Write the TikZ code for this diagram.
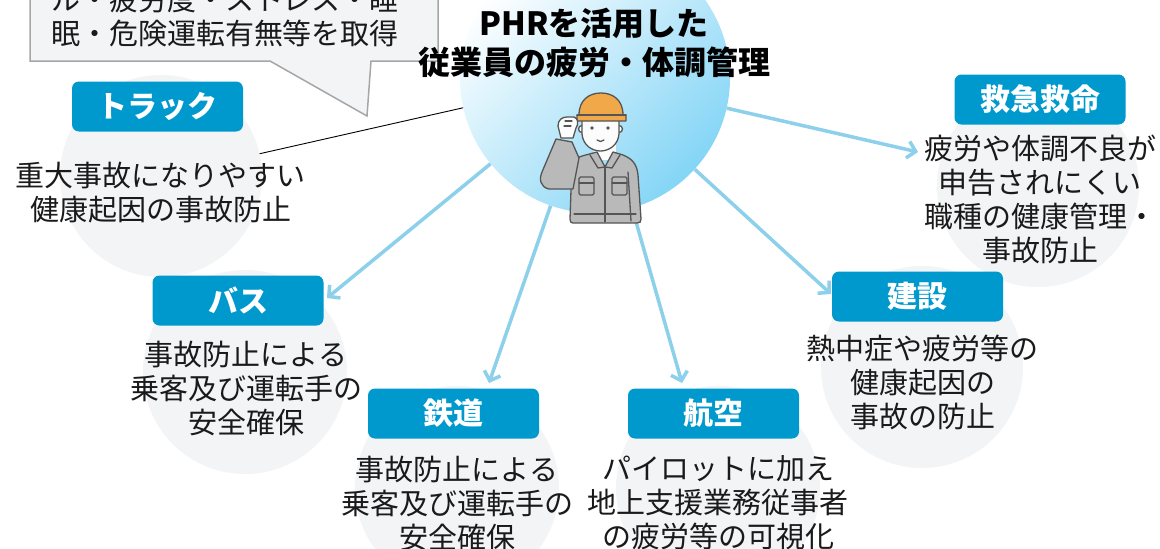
\documentclass[tikz,border=0pt]{standalone}
\usepackage{fontspec}
\setmainfont{Noto Sans CJK JP}
\usetikzlibrary{arrows.meta}

\definecolor{boxblue}{RGB}{0,153,206}
\definecolor{pale}{RGB}{242,244,245}
\definecolor{arrowblue}{RGB}{140,208,235}
\definecolor{calloutline}{RGB}{166,166,166}
\definecolor{ink}{RGB}{26,26,26}
\definecolor{hubmid}{RGB}{214,240,252}
\definecolor{hubdeep}{RGB}{132,213,246}
\definecolor{jacketgrey}{RGB}{185,185,185}
\definecolor{figline}{RGB}{85,85,85}
\definecolor{helmetorange}{RGB}{240,168,72}
\definecolor{skin}{RGB}{252,252,252}

\tikzset{
  zone/.style={circle, fill=pale, inner sep=0pt, minimum size=#1},
  catbox/.style={rectangle, rounded corners=7pt, fill=boxblue, text=white,
    font=\bfseries\fontsize{30}{34}\selectfont, minimum width=171pt,
    minimum height=50pt, inner sep=0pt},
  desc/.style={align=center, text=ink, inner sep=0pt,
    font=\fontsize{29}{34}\selectfont},
  flow/.style={draw=arrowblue, line width=3.5pt,
    -{Straight Barb[length=8pt,width=17pt]}},
  jacket/.style={fill=jacketgrey, draw=figline, line width=1.3pt, line join=round},
  bare/.style={fill=skin, draw=figline, line width=1.3pt, line join=round},
  figstroke/.style={draw=figline, line width=1.3pt, line cap=round, line join=round}
}

\begin{document}
\begin{tikzpicture}[x=1pt,y=-1pt]
\useasboundingbox (0,0) rectangle (1160,549);
\fill[white] (0,0) rectangle (1160,549);

% pale discs behind each sector
\node[zone=202pt] (truckzone) at (161,176) {};
\node[zone=202pt] (rescuezone) at (1038,186) {};
\node[zone=204pt] (buszone) at (245,372) {};
\node[zone=202pt] (buildzone) at (922,367) {};
\node[zone=204pt] (railzone) at (457,488) {};
\node[zone=204pt] (airzone) at (718,488) {};

% central disc
\node[circle, minimum size=270pt, inner sep=0pt, top color=white,
  middle color=hubmid, bottom color=hubdeep, shading angle=45] (hub) at (595,78) {};

% speech balloon with the collected data
\filldraw[draw=calloutline, fill=pale, line width=1.5pt, line join=miter]
  (30,-40) -- (30,61) -- (270,61) -- (367,116) -- (371,61) -- (438,61) -- (438,-40) -- cycle;
\node[desc] (datatext) at (225,17) {ル・疲労度・ストレス・睡\\眠・危険運転有無等を取得};

% connectors
\draw[black, line width=0.9pt] (truckzone) -- (hub);
\coordinate (tipRescue) at (918,152);
\coordinate (tipBus) at (327,298);
\coordinate (tipRail) at (489,383);
\coordinate (tipAir) at (682,383);
\coordinate (tipBuild) at (831,294);
\draw[flow] (hub) -- (tipRescue);
\draw[flow] (hub) -- (tipBus);
\draw[flow] (hub) -- (tipRail);
\draw[flow] (hub) -- (tipAir);
\draw[flow] (hub) -- (tipBuild);

% title
\node[align=center, text=black, inner sep=0pt,
  font=\bfseries\fontsize{32}{39}\selectfont] (title) at (594,43)
  {PHRを活用した\\従業員の疲労・体調管理};

% worker figure
\fill[skin] (594,140) rectangle (616,160);
\filldraw[jacket] (582,156) -- (597,152) -- (605,167) -- (613,152) -- (623,155)
  .. controls (633,159) and (637,165) .. (638,175) -- (641,219)
  .. controls (641,222) and (640,223) .. (637,223) -- (573,223)
  .. controls (571,223) and (570,222) .. (570,219) -- (571,190) -- (573,166)
  .. controls (575,160) and (578,157) .. (582,156) -- cycle;
\draw[figstroke] (590,155) -- (598,168) -- (605,167) -- (612,168) -- (620,155);
\draw[figstroke] (605,167) -- (605,222);
\draw[figstroke] (628,172) -- (631,221);
\draw[figstroke] (574,214) -- (636,214);
\draw[figstroke, rounded corners=1.5pt] (579,177) rectangle (594,195);
\draw[figstroke] (579,183) -- (594,183);
\draw[figstroke, rounded corners=1.5pt] (612,177) rectangle (627,195);
\draw[figstroke] (612,183) -- (627,183);
% raised sleeve
\filldraw[jacket] (556,139) -- (572,142) -- (579,158) -- (573,189) -- (549,189)
  .. controls (540,187) and (539,179) .. (542,172) -- cycle;
% head
\filldraw[bare] (582,129) circle[radius=3.5];
\filldraw[bare] (619,129) circle[radius=3.5];
\filldraw[bare] (582,119) -- (582,134) .. controls (583,146) and (593,151) .. (600.5,151)
  .. controls (608,151) and (618,146) .. (619,134) -- (619,119) -- cycle;
\fill[figline] (592,128) circle[radius=1.9];
\fill[figline] (608,128) circle[radius=1.9];
\draw[figstroke] (597,140) .. controls (599,142) and (602,142) .. (604,140);
% helmet
\filldraw[draw=figline, fill=helmetorange, line width=1.3pt, line join=round]
  (577,121) -- (577,115) -- (579,115) .. controls (579,100) and (589,93) .. (601,93)
  .. controls (613,93) and (623,100) .. (623,115) -- (626,115) -- (626,121) -- cycle;
\draw[figstroke] (577,115) -- (626,115);
% hand at the brim
\filldraw[bare] (561,138) -- (558,126) .. controls (558,120) and (562,117) .. (567,117)
  -- (574,117) .. controls (578,118) and (579,124) .. (576,128) -- (573,138) -- cycle;
\draw[figstroke] (565,121) -- (572,121);
\draw[figstroke] (564,126) -- (571,126);

% sector headers
\node[catbox] (truckhead) at (157.5,106.5) {トラック};
\node[catbox] (rescuehead) at (1040,99.5) {救急救命};
\node[catbox] (bushead) at (238,300.5) {バス};
\node[catbox] (buildhead) at (917.5,296.5) {建設};
\node[catbox] (railhead) at (453.5,413.5) {鉄道};
\node[catbox] (airhead) at (713.5,413.5) {航空};

% sector descriptions
\node[desc] (trucktext) at (161,193) {重大事故になりやすい\\健康起因の事故防止};
\node[desc] (rescuetext) at (1040,199.5) {疲労や体調不良が\\申告されにくい\\職種の健康管理・\\事故防止};
\node[desc] (bustext) at (246,388) {事故防止による\\乗客及び運転手の\\安全確保};
\node[desc] (buildtext) at (922.5,382.5) {熱中症や疲労等の\\健康起因の\\事故の防止};
\node[desc] (railtext) at (457,503) {事故防止による\\乗客及び運転手の\\安全確保};
\node[desc] (airtext) at (718,503) {パイロットに加え\\地上支援業務従事者\\の疲労等の可視化};
\end{tikzpicture}
\end{document}
